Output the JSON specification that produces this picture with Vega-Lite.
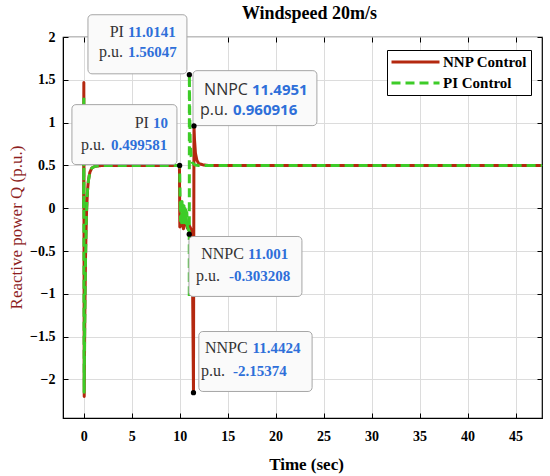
{
  "$schema": "https://vega.github.io/schema/vega-lite/v6.json",
  "width": 479,
  "height": 381,
  "autosize": {"type": "none"},
  "padding": {"left": 63, "top": 37, "right": 8, "bottom": 58},
  "background": "white",
  "title": {"text": "Windspeed 20m/s", "font": "Liberation Serif", "fontSize": 18, "fontWeight": "bold", "color": "black", "anchor": "middle", "offset": -9, "dx": 7},
  "config": {
    "view": {"stroke": "black", "strokeWidth": 1.2},
    "axis": {"domainColor": "black", "tickColor": "black", "gridColor": "#DCDCDC", "gridWidth": 1, "labelColor": "black", "titleColor": "black"}
  },
  "datasets": {
    "lines": [
      {"t": 0, "q": 0, "series": "NNP Control"},
      {"t": 0.02, "q": 1.47, "series": "NNP Control"},
      {"t": 0.06, "q": -2.2, "series": "NNP Control"},
      {"t": 0.12, "q": -1.3, "series": "NNP Control"},
      {"t": 0.2, "q": -0.55, "series": "NNP Control"},
      {"t": 0.3, "q": -0.05, "series": "NNP Control"},
      {"t": 0.4, "q": 0.2, "series": "NNP Control"},
      {"t": 0.5, "q": 0.33, "series": "NNP Control"},
      {"t": 0.65, "q": 0.42, "series": "NNP Control"},
      {"t": 0.85, "q": 0.47, "series": "NNP Control"},
      {"t": 1.2, "q": 0.49, "series": "NNP Control"},
      {"t": 2, "q": 0.5, "series": "NNP Control"},
      {"t": 9.98, "q": 0.5, "series": "NNP Control"},
      {"t": 10.02, "q": -0.22, "series": "NNP Control"},
      {"t": 10.2, "q": -0.15, "series": "NNP Control"},
      {"t": 10.4, "q": -0.24, "series": "NNP Control"},
      {"t": 10.6, "q": -0.1, "series": "NNP Control"},
      {"t": 10.8, "q": -0.23, "series": "NNP Control"},
      {"t": 11.0, "q": -0.2, "series": "NNP Control"},
      {"t": 11.2, "q": -0.25, "series": "NNP Control"},
      {"t": 11.35, "q": -0.9, "series": "NNP Control"},
      {"t": 11.4424, "q": -2.15374, "series": "NNP Control"},
      {"t": 11.4951, "q": 0.960916, "series": "NNP Control"},
      {"t": 11.55, "q": 0.8, "series": "NNP Control"},
      {"t": 11.65, "q": 0.64, "series": "NNP Control"},
      {"t": 11.8, "q": 0.56, "series": "NNP Control"},
      {"t": 12.0, "q": 0.52, "series": "NNP Control"},
      {"t": 12.5, "q": 0.505, "series": "NNP Control"},
      {"t": 13, "q": 0.5, "series": "NNP Control"},
      {"t": 30, "q": 0.5, "series": "NNP Control"},
      {"t": 47.75, "q": 0.5, "series": "NNP Control"},
      {"t": 0, "q": 0, "series": "PI Control"},
      {"t": 0.02, "q": 1.3, "series": "PI Control"},
      {"t": 0.05, "q": -2.15, "series": "PI Control"},
      {"t": 0.1, "q": -1.5, "series": "PI Control"},
      {"t": 0.18, "q": -0.7, "series": "PI Control"},
      {"t": 0.28, "q": -0.1, "series": "PI Control"},
      {"t": 0.38, "q": 0.18, "series": "PI Control"},
      {"t": 0.5, "q": 0.32, "series": "PI Control"},
      {"t": 0.65, "q": 0.42, "series": "PI Control"},
      {"t": 0.85, "q": 0.47, "series": "PI Control"},
      {"t": 1.2, "q": 0.49, "series": "PI Control"},
      {"t": 2, "q": 0.5, "series": "PI Control"},
      {"t": 10, "q": 0.499581, "series": "PI Control"},
      {"t": 10.05, "q": 0.12, "series": "PI Control"},
      {"t": 10.1, "q": -0.15, "series": "PI Control"},
      {"t": 10.15, "q": 0.1, "series": "PI Control"},
      {"t": 10.2, "q": -0.17, "series": "PI Control"},
      {"t": 10.25, "q": 0.08, "series": "PI Control"},
      {"t": 10.3, "q": -0.16, "series": "PI Control"},
      {"t": 10.35, "q": 0.05, "series": "PI Control"},
      {"t": 10.4, "q": -0.17, "series": "PI Control"},
      {"t": 10.45, "q": 0.03, "series": "PI Control"},
      {"t": 10.5, "q": -0.16, "series": "PI Control"},
      {"t": 10.55, "q": 0.0, "series": "PI Control"},
      {"t": 10.6, "q": -0.17, "series": "PI Control"},
      {"t": 10.65, "q": -0.02, "series": "PI Control"},
      {"t": 10.7, "q": -0.18, "series": "PI Control"},
      {"t": 10.75, "q": -0.05, "series": "PI Control"},
      {"t": 10.8, "q": -0.2, "series": "PI Control"},
      {"t": 10.9, "q": -0.25, "series": "PI Control"},
      {"t": 10.97, "q": -0.22, "series": "PI Control"},
      {"t": 11.001, "q": -0.303208, "series": "PI Control"},
      {"t": 11.006, "q": -1.05, "series": "PI Control"},
      {"t": 11.0141, "q": 1.56047, "series": "PI Control"},
      {"t": 11.05, "q": 1.1, "series": "PI Control"},
      {"t": 11.1, "q": 0.78, "series": "PI Control"},
      {"t": 11.2, "q": 0.6, "series": "PI Control"},
      {"t": 11.35, "q": 0.53, "series": "PI Control"},
      {"t": 11.6, "q": 0.505, "series": "PI Control"},
      {"t": 12, "q": 0.5, "series": "PI Control"},
      {"t": 30, "q": 0.5, "series": "PI Control"},
      {"t": 47.75, "q": 0.5, "series": "PI Control"}
    ],
    "markers": [
      {"t": 10, "q": 0.499581},
      {"t": 11.0141, "q": 1.56047},
      {"t": 11.4951, "q": 0.960916},
      {"t": 11.001, "q": -0.303208},
      {"t": 11.4424, "q": -2.15374}
    ],
    "boxes": [
      {"tip": "A", "x1": 0.45, "x2": 10.76, "y1": 1.57, "y2": 2.26},
      {"tip": "B", "x1": -1.22, "x2": 9.72, "y1": 0.51, "y2": 1.21},
      {"tip": "C", "x1": 11.39, "x2": 24.3, "y1": 0.965, "y2": 1.607},
      {"tip": "D", "x1": 10.97, "x2": 22.74, "y1": -1.03, "y2": -0.33},
      {"tip": "E", "x1": 12.0, "x2": 23.8, "y1": -2.14, "y2": -1.44}
    ],
    "tips": [
      {"tip": "A", "part": "label", "text": "PI", "x": 4.2, "y": 2.06},
      {"tip": "A", "part": "value", "text": "11.0141", "x": 4.61, "y": 2.06},
      {"tip": "A", "part": "label", "text": "p.u.", "x": 4.09, "y": 1.82},
      {"tip": "A", "part": "value", "text": "1.56047", "x": 4.61, "y": 1.82},
      {"tip": "B", "part": "label", "text": "PI", "x": 6.8, "y": 1.0},
      {"tip": "B", "part": "value", "text": "10", "x": 7.22, "y": 1.0},
      {"tip": "B", "part": "label", "text": "p.u.", "x": 2.22, "y": 0.74},
      {"tip": "B", "part": "value", "text": "0.499581", "x": 2.84, "y": 0.74},
      {"tip": "C", "part": "label", "text": "NNPC", "x": 17.11, "y": 1.385},
      {"tip": "C", "part": "value", "text": "11.4951", "x": 17.53, "y": 1.385},
      {"tip": "C", "part": "label", "text": "p.u.", "x": 15.03, "y": 1.15},
      {"tip": "C", "part": "value", "text": "0.960916", "x": 15.55, "y": 1.15},
      {"tip": "D", "part": "label", "text": "NNPC", "x": 16.7, "y": -0.53},
      {"tip": "D", "part": "value", "text": "11.001", "x": 17.11, "y": -0.53},
      {"tip": "D", "part": "label", "text": "p.u.", "x": 14.2, "y": -0.79},
      {"tip": "D", "part": "value", "text": "-0.303208", "x": 15.14, "y": -0.79},
      {"tip": "E", "part": "label", "text": "NNPC", "x": 17.08, "y": -1.637},
      {"tip": "E", "part": "value", "text": "11.4424", "x": 17.6, "y": -1.637},
      {"tip": "E", "part": "label", "text": "p.u.", "x": 14.72, "y": -1.9},
      {"tip": "E", "part": "value", "text": "-2.15374", "x": 15.55, "y": -1.9}
    ]
  },
  "layer": [
    {
      "data": {"name": "lines"},
      "mark": {"type": "line", "strokeWidth": 3, "strokeJoin": "round", "clip": true},
      "encoding": {
        "x": {"field": "t", "type": "quantitative",
          "scale": {"domain": [-2.15, 47.75], "nice": false, "zero": false},
          "axis": {"orient": "bottom", "values": [0, 5, 10, 15, 20, 25, 30, 35, 40, 45], "grid": true, "tickSize": -5, "labelPadding": 16,
            "labelFont": "Liberation Serif", "labelFontSize": 14, "labelFontWeight": "bold",
            "title": "Time (sec)", "titleFont": "Liberation Serif", "titleFontSize": 17, "titleFontWeight": "bold",
            "titleX": 243, "titleY": 46, "titleBaseline": "middle"}},
        "y": {"field": "q", "type": "quantitative",
          "scale": {"domain": [-2.45, 2], "nice": false, "zero": false},
          "axis": {"orient": "left", "values": [-2, -1.5, -1, -0.5, 0, 0.5, 1, 1.5, 2], "format": "~g", "grid": true, "tickSize": -5, "labelPadding": 13,
            "labelFont": "Liberation Serif", "labelFontSize": 14, "labelFontWeight": "bold",
            "title": "Reactive power Q (p.u.)", "titleFont": "Liberation Serif", "titleFontSize": 17, "titleFontWeight": "normal", "titleColor": "#8E1F1F",
            "titleX": -47, "titleY": 190, "titleBaseline": "middle", "titleAlign": "center"}},
        "color": {"field": "series", "type": "nominal",
          "scale": {"domain": ["NNP Control", "PI Control"], "range": ["#B4280F", "#3DCC28"]},
          "legend": {"title": null, "orient": "none", "legendX": 324, "legendY": 13, "padding": 3,
            "strokeColor": "black", "fillColor": "white", "symbolType": "stroke", "symbolSize": 2304, "symbolStrokeWidth": 3,
            "clipHeight": 18, "rowPadding": 3, "labelOffset": 2,
            "labelFont": "Liberation Serif", "labelFontSize": 15, "labelFontWeight": "bold", "labelColor": "black"}},
        "strokeDash": {"field": "series", "type": "nominal",
          "scale": {"domain": ["NNP Control", "PI Control"], "range": [[1, 0], [9, 5]]},
          "legend": {"title": null, "orient": "none", "legendX": 324, "legendY": 13, "padding": 3,
            "strokeColor": "black", "fillColor": "white", "symbolType": "stroke", "symbolSize": 2304, "symbolStrokeWidth": 3,
            "clipHeight": 18, "rowPadding": 3, "labelOffset": 2,
            "labelFont": "Liberation Serif", "labelFontSize": 15, "labelFontWeight": "bold", "labelColor": "black"}}
      }
    },
    {
      "data": {"name": "boxes"},
      "mark": {"type": "rect", "fill": "#FAFAFA", "stroke": "#A6A6A6", "strokeWidth": 1, "cornerRadius": 4},
      "encoding": {
        "x": {"field": "x1", "type": "quantitative", "scale": {"domain": [-2.15, 47.75], "nice": false, "zero": false}, "axis": null},
        "x2": {"field": "x2"},
        "y": {"field": "y1", "type": "quantitative", "scale": {"domain": [-2.45, 2], "nice": false, "zero": false}, "axis": null},
        "y2": {"field": "y2"}
      }
    },
    {
      "data": {"name": "tips"},
      "transform": [{"filter": "datum.tip != 'C' && datum.part == 'label'"}],
      "mark": {"type": "text", "align": "right", "baseline": "middle", "font": "Liberation Serif", "fontSize": 16, "fill": "#333333"},
      "encoding": {
        "x": {"field": "x", "type": "quantitative", "scale": {"domain": [-2.15, 47.75], "nice": false, "zero": false}, "axis": null},
        "y": {"field": "y", "type": "quantitative", "scale": {"domain": [-2.45, 2], "nice": false, "zero": false}, "axis": null},
        "text": {"field": "text"}
      }
    },
    {
      "data": {"name": "tips"},
      "transform": [{"filter": "datum.tip != 'C' && datum.part == 'value'"}],
      "mark": {"type": "text", "align": "left", "baseline": "middle", "font": "Liberation Serif", "fontSize": 15, "fontWeight": "bold", "fill": "#2E6FD9"},
      "encoding": {
        "x": {"field": "x", "type": "quantitative", "scale": {"domain": [-2.15, 47.75], "nice": false, "zero": false}, "axis": null},
        "y": {"field": "y", "type": "quantitative", "scale": {"domain": [-2.45, 2], "nice": false, "zero": false}, "axis": null},
        "text": {"field": "text"}
      }
    },
    {
      "data": {"name": "tips"},
      "transform": [{"filter": "datum.tip == 'C' && datum.part == 'label'"}],
      "mark": {"type": "text", "align": "right", "baseline": "middle", "font": "Open Sans", "fontSize": 16, "fill": "#333333"},
      "encoding": {
        "x": {"field": "x", "type": "quantitative", "scale": {"domain": [-2.15, 47.75], "nice": false, "zero": false}, "axis": null},
        "y": {"field": "y", "type": "quantitative", "scale": {"domain": [-2.45, 2], "nice": false, "zero": false}, "axis": null},
        "text": {"field": "text"}
      }
    },
    {
      "data": {"name": "tips"},
      "transform": [{"filter": "datum.tip == 'C' && datum.part == 'value'"}],
      "mark": {"type": "text", "align": "left", "baseline": "middle", "font": "Open Sans", "fontSize": 15, "fontWeight": "bold", "fill": "#2E6FD9"},
      "encoding": {
        "x": {"field": "x", "type": "quantitative", "scale": {"domain": [-2.15, 47.75], "nice": false, "zero": false}, "axis": null},
        "y": {"field": "y", "type": "quantitative", "scale": {"domain": [-2.45, 2], "nice": false, "zero": false}, "axis": null},
        "text": {"field": "text"}
      }
    },
    {
      "data": {"name": "markers"},
      "mark": {"type": "circle", "size": 28, "fill": "black", "opacity": 1},
      "encoding": {
        "x": {"field": "t", "type": "quantitative", "scale": {"domain": [-2.15, 47.75], "nice": false, "zero": false},
          "axis": {"orient": "top", "values": [0, 5, 10, 15, 20, 25, 30, 35, 40, 45], "labels": false, "grid": false, "domain": false, "tickSize": -5, "title": null}},
        "y": {"field": "q", "type": "quantitative", "scale": {"domain": [-2.45, 2], "nice": false, "zero": false},
          "axis": {"orient": "right", "values": [-2, -1.5, -1, -0.5, 0, 0.5, 1, 1.5, 2], "labels": false, "grid": false, "domain": false, "tickSize": -5, "title": null}}
      }
    }
  ],
  "resolve": {"axis": {"x": "independent", "y": "independent"}}
}
